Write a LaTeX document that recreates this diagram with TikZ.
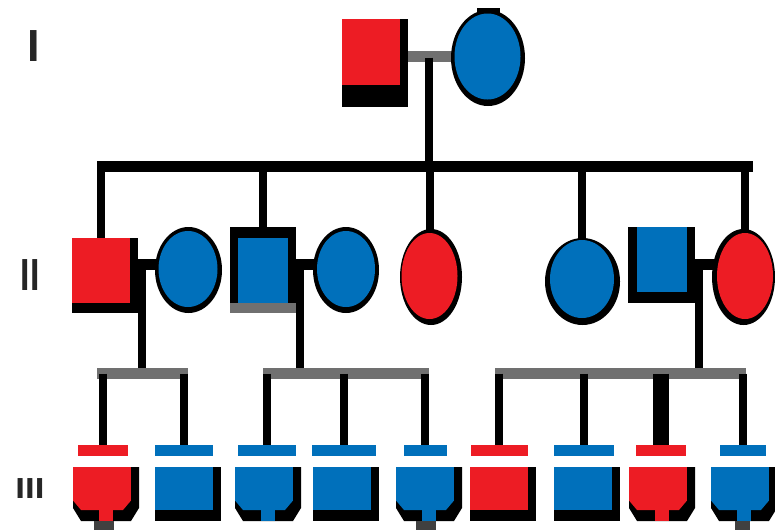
\documentclass[tikz,border=0pt]{standalone}
\usepackage{fontspec}
\setmainfont{Liberation Sans}
\usetikzlibrary{shapes.geometric}
\definecolor{pr}{RGB}{237,28,36}
\definecolor{pb}{RGB}{0,112,187}
\definecolor{lg}{RGB}{112,112,112}
\pgfdeclarelayer{bg}
\pgfsetlayers{bg,main}
\newcommand\pedshield[3]{%
  \begin{scope}[shift={(#1,0)}]
    \fill[black] (-33,467) -- (33,467) -- (33,508) -- (25,521) -- (-25,521) -- (-33,508) -- cycle;
    \node[sqr,fill=#3,minimum width=58pt,minimum height=34pt] (#2) at (-4,484) {};
    \fill[#3] (-33,500.5) -- (25,500.5) -- (17,510) -- (-25,510) -- cycle;
    \fill[#3] (-7,509) rectangle (7,521);
  \end{scope}}
\newcommand\pedsquare[3]{%
  \begin{scope}[shift={(#1,0)}]
    \fill[black] (-29,467) rectangle (37,521);
    \node[sqr,fill=#3,minimum width=58pt,minimum height=43pt] (#2) at (0,488.5) {};
  \end{scope}}
\begin{document}
\begin{tikzpicture}[x=1pt,y=-1pt,
  sqr/.style={rectangle,inner sep=0pt,outer sep=0pt,draw=none},
  ell/.style={ellipse,inner sep=0pt,outer sep=0pt,draw=none},
  grayline/.style={lg,line width=11pt},
  sib/.style={black,line width=11pt},
  drop/.style={black,line width=8pt},
  lbl/.style={inner sep=0pt,outer sep=0pt,text=black!85,font=\fontsize{45}{45}\selectfont\bfseries}]
\useasboundingbox (0,0) rectangle (775,531);

% ---------- Generation I ----------
\fill (342,19) rectangle (408,107);
\node[sqr,fill=pr,minimum width=58pt,minimum height=66pt] (I1) at (371,52) {};
\fill (488,58) ellipse [x radius=37pt,y radius=48pt];
\fill (477,8) rectangle (500,20);
\node[ell,fill=pb,minimum width=66pt,minimum height=86pt] (I2) at (487.5,56.5) {};

% ---------- Generation II ----------
\fill (72,238) rectangle (138,313);
\node[sqr,fill=pr,minimum width=58pt,minimum height=65pt] (II1) at (101,270.5) {};
\fill (188.5,270) ellipse [x radius=33.5pt,y radius=43pt];
\node[ell,fill=pb,minimum width=59pt,minimum height=76pt] (II2) at (188,269) {};
\fill (230,227) rectangle (296,303);
\fill[lg] (230,303) rectangle (296,313);
\node[sqr,fill=pb,minimum width=50pt,minimum height=65pt] (II3) at (263,270.5) {};
\fill (346,270) ellipse [x radius=33pt,y radius=43pt];
\node[ell,fill=pb,minimum width=58pt,minimum height=76pt] (II4) at (346,269) {};
\fill (431,277) ellipse [x radius=31pt,y radius=48pt];
\node[ell,fill=pr,minimum width=56pt,minimum height=86pt] (II5) at (429.5,276) {};
\fill (582.5,281.5) ellipse [x radius=37.5pt,y radius=43.5pt];
\node[ell,fill=pb,minimum width=64pt,minimum height=78pt] (II6) at (582,279) {};
\fill (628,227) rectangle (695,303);
\node[sqr,fill=pb,minimum width=50pt,minimum height=65pt] (II7) at (662,259.5) {};
\fill (743.5,277) ellipse [x radius=31.5pt,y radius=48pt];
\node[ell,fill=pr,minimum width=56pt,minimum height=86pt] (II8) at (745,276) {};

% ---------- Generation III ----------
\pedshield{106}{III1}{pr}
\fill[black!75] (94,521) rectangle (114,530);
\pedsquare{184}{III2}{pb}
\pedshield{268}{III3}{pb}
\pedsquare{342}{III4}{pb}
\pedshield{429}{III5}{pb}
\fill[black!75] (416,521) rectangle (436,530);
\pedsquare{499}{III6}{pr}
\pedsquare{583}{III7}{pb}
\pedshield{662}{III8}{pr}
\pedshield{744}{III9}{pb}
\fill[black!75] (735,521) rectangle (750,530);

\node[sqr,fill=pr,minimum width=50pt,minimum height=11pt] (III1c) at (103,450.5) {};
\node[sqr,fill=pb,minimum width=58pt,minimum height=11pt] (III2c) at (184,450.5) {};
\node[sqr,fill=pb,minimum width=58pt,minimum height=11pt] (III3c) at (267,450.5) {};
\node[sqr,fill=pb,minimum width=64pt,minimum height=11pt] (III4c) at (344,450.5) {};
\node[sqr,fill=pb,minimum width=43pt,minimum height=11pt] (III5c) at (425,450.5) {};
\node[sqr,fill=pr,minimum width=57pt,minimum height=11pt] (III6c) at (499,450.5) {};
\node[sqr,fill=pb,minimum width=60pt,minimum height=11pt] (III7c) at (584,450.5) {};
\node[sqr,fill=pr,minimum width=50pt,minimum height=11pt] (III8c) at (661,450.5) {};
\node[sqr,fill=pb,minimum width=46pt,minimum height=11pt] (III9c) at (743,450.5) {};

% ---------- Generation labels ----------
\node[lbl] (gI) at (34,46.5) {I};
\node[lbl,xscale=0.75] (gII) at (30,275.5) {II};
\node[lbl,font=\fontsize{29}{29}\selectfont\bfseries,xscale=1.2] (gIII) at (30,488.5) {III};

% ---------- Connectors ----------
\begin{pgfonlayer}{bg}
  % generation I couple and sibship
  \draw[grayline] (I1.east |- I2.west) -- (I2.west);
  \coordinate (m1) at (429,57.5);
  \coordinate (s1) at (429,166.5);
  \draw[drop] (m1) -- (s1);
  \coordinate (s1l) at (97,166.5);
  \coordinate (s1r) at (753,166.5);
  \draw[sib] (s1l) -- (s1r);
  \foreach \n in {II1,II3,II5,II6,II8}
    \draw[drop] (\n.north |- s1) -- (\n.north);

  % generation II couples
  \draw[sib] (II1.east |- 0,264.5) -- (II2.west |- 0,264.5);
  \draw[sib] (II3.east |- 0,264.5) -- (II4.west |- 0,264.5);
  \draw[sib] (II7.east |- 0,264.5) -- (II8.west |- 0,264.5);
  \coordinate (m2) at (142,264.5);
  \coordinate (m3) at (300,264.5);
  \coordinate (m4) at (699,264.5);
  \coordinate (s2) at (142,373.5);
  \coordinate (s3) at (300,373.5);
  \coordinate (s4) at (699,373.5);
  \draw[drop] (m2) -- (s2);
  \draw[drop] (m3) -- (s3);
  \draw[drop] (m4) -- (s4);

  % sibship lines of generation III
  \coordinate (a1) at (97,373.5);  \coordinate (a2) at (188,373.5);
  \coordinate (b1) at (263,373.5); \coordinate (b2) at (429,373.5);
  \coordinate (c1) at (495,373.5); \coordinate (c2) at (746,373.5);
  \draw[grayline] (a1) -- (a2);
  \draw[grayline] (b1) -- (b2);
  \draw[grayline] (c1) -- (c2);
  \foreach \n in {III1c,III2c} \draw[drop] (\n.north |- s2) -- (\n.north);
  \foreach \n in {III3c,III4c,III5c} \draw[drop] (\n.north |- s3) -- (\n.north);
  \foreach \n in {III6c,III7c,III9c} \draw[drop] (\n.north |- s4) -- (\n.north);
  \draw[black,line width=16pt] (III8c.north |- s4) -- (III8c.north);
\end{pgfonlayer}
\end{tikzpicture}
\end{document}
